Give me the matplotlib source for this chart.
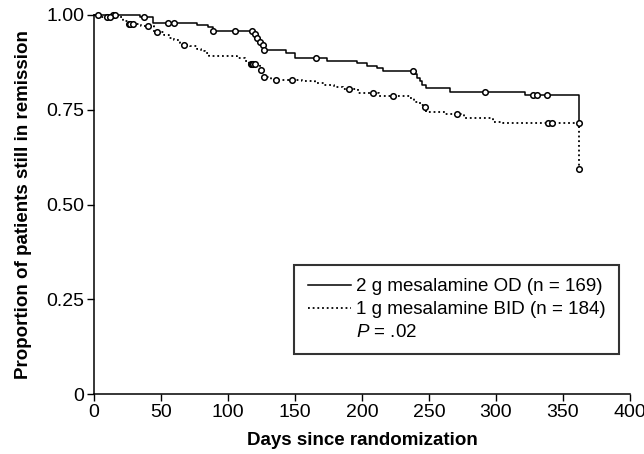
import numpy as np
import matplotlib

matplotlib.use("Agg")
import matplotlib.pyplot as plt
from matplotlib.lines import Line2D

plt.rcParams["font.family"] = ["Liberation Sans", "DejaVu Sans"]
plt.rcParams["mathtext.fontset"] = "custom"
plt.rcParams["mathtext.it"] = "Liberation Sans:italic"
plt.rcParams["mathtext.rm"] = "Liberation Sans"

# Kaplan-Meier steps (day, proportion after the step)
od_days = [0, 34, 44, 77, 85, 89, 119, 121, 123, 125, 127, 143, 150, 174,
           196, 204, 211, 216, 234, 239, 241, 243, 245, 248, 266, 322, 362]
od_surv = [1.0, 0.994, 0.98, 0.974, 0.968, 0.959, 0.95, 0.94, 0.93, 0.92,
           0.908, 0.899, 0.886, 0.879, 0.873, 0.866, 0.859, 0.853, 0.851,
           0.844, 0.835, 0.825, 0.815, 0.807, 0.798, 0.789, 0.716]
od_censor = [14, 16, 37, 55, 60, 89, 105, 118, 120, 122, 124, 126, 127, 166,
             238, 292, 328, 331, 338, 362]

bid_days = [0, 5, 22, 25, 35, 45, 52, 56, 60, 64, 66, 72, 77, 80, 83, 86,
            107, 113, 116, 124, 125, 126, 127, 132, 155, 165, 172, 179, 186,
            188, 197, 213, 236, 239, 243, 246, 248, 262, 276, 298, 305, 362]
bid_surv = [1.0, 0.995, 0.985, 0.976, 0.970, 0.956, 0.948, 0.94, 0.933,
            0.926, 0.922, 0.917, 0.91, 0.905, 0.90, 0.892, 0.886, 0.878,
            0.87, 0.862, 0.854, 0.845, 0.836, 0.828, 0.825, 0.821, 0.816,
            0.811, 0.806, 0.804, 0.793, 0.787, 0.78, 0.77, 0.762, 0.757,
            0.745, 0.739, 0.727, 0.718, 0.716, 0.594]
bid_censor = [3, 10, 12, 26, 27, 29, 40, 47, 67, 117, 118, 119, 120, 125,
              127, 136, 148, 190, 208, 223, 247, 271, 339, 342, 362]

x_ticks = [0, 50, 100, 150, 200, 250, 300, 350, 400]
y_ticks = [0, 0.25, 0.5, 0.75, 1.0]
y_labels = ["0", "0.25", "0.50", "0.75", "1.00"]


def at(days, surv, t):
    i = np.searchsorted(days, t, side="right") - 1
    return np.asarray(surv)[i]


fig = plt.figure(figsize=(6.44, 4.54), dpi=100)
ax = fig.add_axes([0.146, 0.132, 0.832, 0.835])

ax.step(od_days, od_surv, where="post", color="black", lw=1.1, clip_on=False)
ax.step(bid_days, bid_surv, where="post", color="black", lw=1.3,
        linestyle=(0, (1, 1.6)), clip_on=False)
mk = dict(marker="o", ms=4, mfc="white", mec="black", mew=1.1,
          linestyle="none", clip_on=False, zorder=3)
ax.plot(od_censor, at(od_days, od_surv, od_censor), **mk)
ax.plot(bid_censor, at(bid_days, bid_surv, bid_censor), **mk)

ax.set_xlim(0, 400)
ax.set_ylim(0, 1.0)
ax.set_xticks(x_ticks)
ax.set_yticks(y_ticks)
ax.set_yticklabels(y_labels)
ax.tick_params(direction="out", length=5, width=1, labelsize=14, pad=2)
for s in ("top", "right"):
    ax.spines[s].set_visible(False)
for s in ("left", "bottom"):
    ax.spines[s].set_linewidth(1.1)

ax.set_xlabel("Days since randomization", fontsize=13.5, fontweight="bold",
              labelpad=8)
ax.set_ylabel("Proportion of patients still in remission", fontsize=13.5,
              fontweight="bold", labelpad=10)

handles = [
    Line2D([], [], color="black", lw=1.1),
    Line2D([], [], color="black", lw=1.3, linestyle=(0, (1, 1.6))),
    Line2D([], [], linestyle="none"),
]
labels = ["2 g mesalamine OD (n = 169)", "1 g mesalamine BID (n = 184)",
          "$P$ = .02"]
leg = ax.legend(handles, labels, loc="upper left",
                bbox_to_anchor=(0.374, 0.34), fontsize=13.5, frameon=True,
                fancybox=False, edgecolor="black", handlelength=2.3,
                handletextpad=0.3, labelspacing=0.3, borderpad=0.7,
                borderaxespad=0)
leg.get_frame().set_linewidth(1.5)

fig.savefig("out.png", dpi=100)
